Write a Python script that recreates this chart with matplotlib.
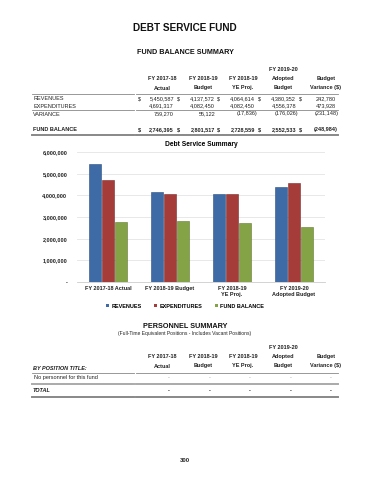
import matplotlib
matplotlib.use("Agg")
import matplotlib.pyplot as plt
import numpy as np
from matplotlib.lines import Line2D
from matplotlib.patches import Patch

plt.rcParams["font.family"] = ["Liberation Sans", "DejaVu Sans"]

# data
categories = ["FY 2017-18 Actual", "FY 2018-19 Budget", "FY 2018-19\nYE Proj.",
              "FY 2019-20\nAdopted Budget"]
revenues = [5450587, 4137572, 4064614, 4380352]
expenditures = [4691317, 4082450, 4082450, 4556378]
fund_balance = [2746395, 2801517, 2728559, 2552533]
variance = [759270, 55122, -17836, -176026]
budget_var = [242780, 473928, -231148, -248984]
series_names = ["REVENUES", "EXPENDITURES", "FUND BALANCE"]
head_top = ["FY 2017-18\nActual", "FY 2018-19\nBudget", "FY 2018-19\nYE Proj.",
            "FY 2019-20\nAdopted\nBudget", "Budget\nVariance ($)"]
positions = ["No personnel for this fund"]
position_vals = [["-", "-", "-", "-", "-"]]

colors = ["#3e6aa6", "#a63c3a", "#84a246"]
edges = ["#2a4d7d", "#7a2a28", "#607a30"]

W, H = 370, 480
fig = plt.figure(figsize=(W / 100, H / 100), dpi=100)


def fx(x):
    return x / W


def fy(y):
    return 1 - y / H


def txt(x, y, s, size=4.2, ha="left", weight="normal", style="normal", color="#222222"):
    fig.text(fx(x), fy(y), s, fontsize=size, ha=ha, va="center",
             fontweight=weight, fontstyle=style, color=color, linespacing=1.15)


def hline(y, x0, x1, lw=0.6, color="#888888"):
    fig.add_artist(Line2D([fx(x0), fx(x1)], [fy(y), fy(y)], lw=lw, color=color,
                          transform=fig.transFigure))


def fmt(v):
    return f"{v:,}" if v >= 0 else f"({-v:,})"


txt(185, 28, "DEBT SERVICE FUND", size=7.2, ha="center", weight="bold", color="#111111")
txt(185, 52, "FUND BALANCE SUMMARY", size=5.2, ha="center", weight="bold", color="#111111")

col_c = [162, 203, 243, 283, 326]
col_r = [174, 215, 255, 296, 336]
dollar_x = [138, 177, 217, 258, 299]


def header(ybottom):
    for c, h in zip(col_c, head_top):
        lines = h.split("\n")
        n = len(lines)
        for i, ln in enumerate(lines):
            txt(c, ybottom - (n - 1 - i) * 9.3, ln, size=4.0, ha="center", weight="bold")


header(88)
hline(94, 32, 134)
hline(94, 136, 338)

rev_row = revenues + [budget_var[0]]
exp_row = expenditures + [budget_var[1]]
var_row = variance + [budget_var[2]]
fb_row = fund_balance + [budget_var[3]]


def row(y, label, vals, dollars=False, weight="normal"):
    txt(33, y, label, size=4.0, weight=weight)
    for i, v in enumerate(vals):
        xr = col_r[i] + (2.2 if v < 0 else 0)
        txt(xr, y, fmt(v), size=4.0, ha="right", weight=weight)
        if dollars:
            txt(dollar_x[i], y, "$", size=4.0, weight=weight)


row(99, "REVENUES", rev_row, dollars=True)
row(106, "EXPENDITURES", exp_row)
hline(110, 32, 134)
hline(110, 136, 338)
row(114, "VARIANCE", var_row)
row(130, "FUND BALANCE", fb_row, dollars=True, weight="bold")
hline(134.5, 32, 134, lw=1.4)
hline(134.5, 136, 338, lw=1.4)

# chart
ax = fig.add_axes([fx(77), fy(282), fx(325 - 77), (282 - 152) / H])
x = np.arange(len(categories))
bw = 0.21
for k, vals in enumerate([revenues, expenditures, fund_balance]):
    ax.bar(x + (k - 1) * bw, vals, width=bw * 0.98, color=colors[k],
           edgecolor=edges[k], linewidth=0.4, zorder=3)
ax.set_xlim(-0.5, 3.5)
ax.set_ylim(0, 6000000)
ax.set_yticks(np.arange(0, 6000001, 1000000))
ax.set_yticklabels(["-"] + [f"{v:,}" for v in range(1000000, 6000001, 1000000)])
ax.set_xticks(x)
ax.set_xticklabels(categories)
ax.tick_params(axis="y", labelsize=4.0, length=0, pad=7)
ax.tick_params(axis="x", labelsize=4.0, length=0, pad=3)
for lbl in ax.get_xticklabels() + ax.get_yticklabels():
    lbl.set_fontweight("bold")
    lbl.set_color("#222222")
ax.grid(axis="y", color="#e4e4e4", lw=0.6, zorder=0)
for s in ["top", "right", "left"]:
    ax.spines[s].set_visible(False)
ax.spines["bottom"].set_color("#cccccc")
ax.spines["bottom"].set_linewidth(0.6)
ax.set_title("Debt Service Summary", fontsize=4.8, fontweight="bold", pad=4)

handles = [Patch(facecolor=c, edgecolor="none") for c in colors]
fig.legend(handles, series_names, loc="center", bbox_to_anchor=(fx(185), fy(306)),
           ncol=3, frameon=False, handlelength=0.6, handleheight=0.6,
           handletextpad=0.4, columnspacing=2.2, prop={"weight": "bold", "size": 4.0})

# personnel summary
txt(185, 326, "PERSONNEL SUMMARY", size=5.2, ha="center", weight="bold", color="#111111")
txt(185, 334, "(Full-Time Equivalent Positions - Includes Vacant Positions)", size=3.6,
    ha="center")
header(366)
txt(33, 369, "BY POSITION TITLE:", size=4.0, weight="bold", style="italic")
hline(373, 32, 134)
hline(373, 136, 338)

for j, (p, vals) in enumerate(zip(positions, position_vals)):
    y = 378 + j * 7
    txt(34, y, p, size=4.0)
    for i, v in enumerate(vals):
        txt(col_r[i] - 4, y, v, size=4.0, ha="right", color="#999999")
hline(383.5, 32, 134, lw=1.4, color="#aaaaaa")
hline(383.5, 136, 338, lw=1.4, color="#aaaaaa")
txt(33, 391, "TOTAL", size=4.0, weight="bold", style="italic")
for i in range(5):
    txt(col_r[i] - 4, 391, "-", size=4.0, ha="right", weight="bold")
hline(396.5, 32, 134, lw=1.4)
hline(396.5, 136, 338, lw=1.4)

txt(185, 460, "300", size=4.2, ha="center", weight="bold")

fig.savefig("out.png", dpi=100)
